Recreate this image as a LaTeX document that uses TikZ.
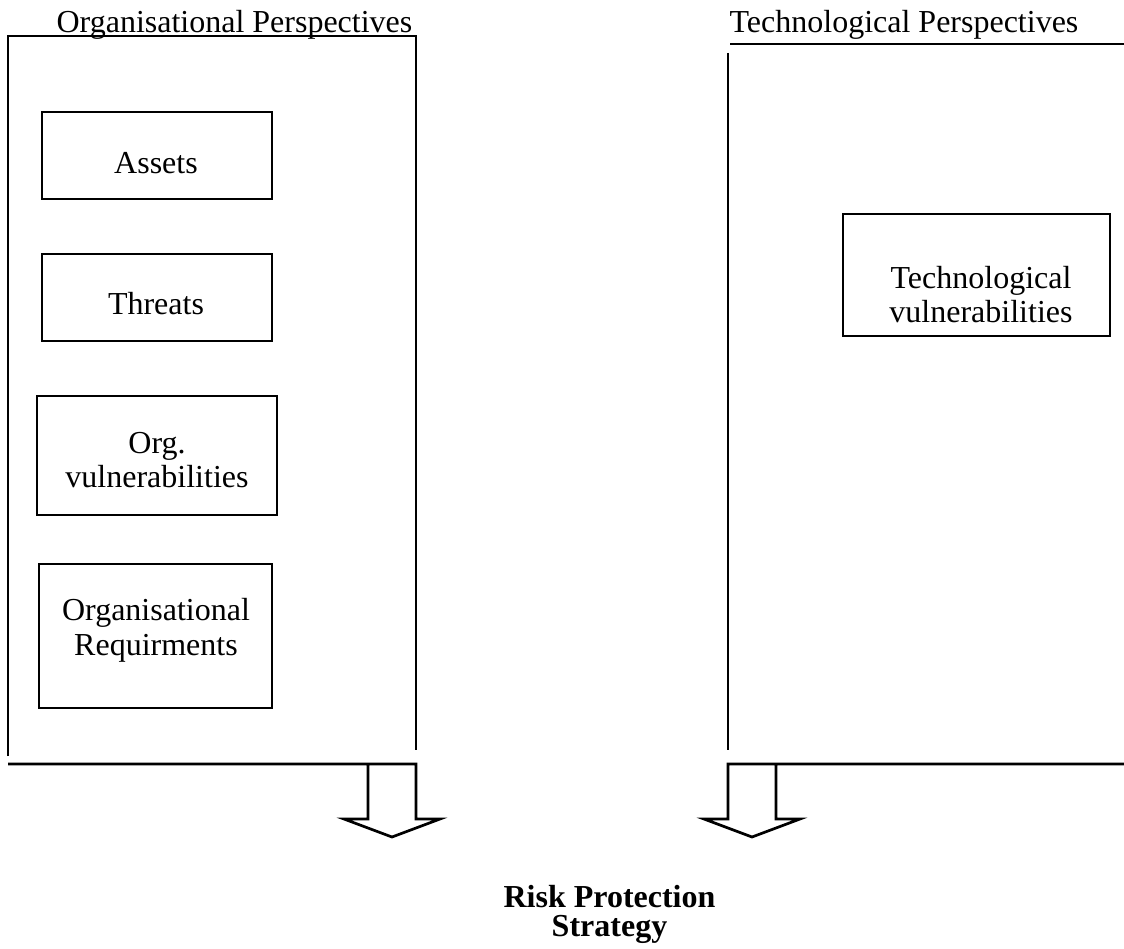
\documentclass[tikz,border=0pt]{standalone}
\usepackage{fontspec}
\setmainfont{Liberation Serif}
\begin{document}
\begin{tikzpicture}[x=1pt,y=-1pt,
  rule/.style={line width=2.7pt, line join=miter},
  item/.style={draw, line width=2.7pt, inner sep=0pt},
  txt/.style={inner sep=0pt, anchor=base, align=center,
    font=\fontsize{32}{34.5}\selectfont},
  bold/.style={txt, font=\fontsize{32}{29}\selectfont\bfseries}]
\useasboundingbox (0,0) rectangle (1124,949);

% panel corners
\coordinate (oTL) at (8,36);
\coordinate (oTR) at (416,36);
\coordinate (oBL) at (8,756);
\coordinate (oBR) at (416,750);
\coordinate (tTL) at (730,44);
\coordinate (tTR) at (1124,44);
\coordinate (tVT) at (728,53);
\coordinate (tVB) at (728,750);

% panel titles
\node[txt] (otitle) at (234.5,32.7) {Organisational Perspectives};
\node[txt] (ttitle) at (904,32.7) {Technological Perspectives};

% organisational panel frame
\draw[rule] (oBL) -- (oTL) -- (oTR) -- (oBR);
% technological panel frame
\draw[rule] (tTL) -- (tTR);
\draw[rule] (tVT) -- (tVB);

% organisational items (text nodes sit on the baseline of their last line)
\node[item, minimum width=230pt, minimum height=87pt] (assets) at (157,155.5) {};
\node[txt] (assetsT) at (156,174) {Assets};
\node[item, minimum width=230pt, minimum height=87pt] (threats) at (157,297.5) {};
\node[txt] (threatsT) at (156,315) {Threats};
\node[item, minimum width=240pt, minimum height=119pt] (orgv) at (157,455.5) {};
\node[txt] (orgvT) at (157,487.7) {Org.\\vulnerabilities};
\node[item, minimum width=233pt, minimum height=144pt] (orgreq) at (155.5,636) {};
\node[txt] (orgreqT) at (156,655) {Organisational\\Requirments};

% technological item
\node[item, minimum width=267pt, minimum height=122pt] (techv) at (976.5,275) {};
\node[txt] (techvT) at (981,323) {Technological\\vulnerabilities};

% base lines with open block arrows
\coordinate (lB1) at (8,764);
\coordinate (lB2) at (416,764);
\draw[rule] (lB1) -- (lB2) -- (416,819) -- (440,819) -- (392,837)
  -- (344,819) -- (368,819) -- (368,764);
\coordinate (rB1) at (1124,764);
\coordinate (rB2) at (728,764);
\draw[rule] (rB1) -- (rB2) -- (728,819) -- (704,819) -- (752,837)
  -- (800,819) -- (776,819) -- (776,764);

% outcome
\node[bold] (risk) at (609.5,936.7) {Risk Protection\\Strategy};
\end{tikzpicture}
\end{document}
